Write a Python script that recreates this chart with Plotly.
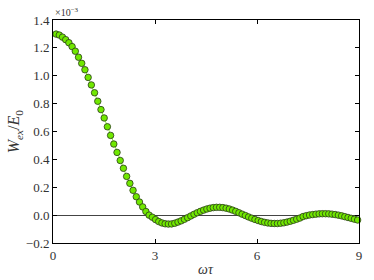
import numpy as np
import plotly.graph_objects as go

x_vals = np.round(np.linspace(0.09, 8.96, 95), 4)

# W_ex / E_0 in units of 1e-3
w_vals = [
    1.299, 1.292, 1.277, 1.259, 1.237, 1.209, 1.176, 1.133, 1.089, 1.043,
    0.988, 0.934, 0.878, 0.817, 0.757, 0.697, 0.634, 0.572, 0.510, 0.450,
    0.392, 0.336, 0.278, 0.228, 0.178, 0.132, 0.094, 0.059, 0.026, 0.000,
    -0.015, -0.032, -0.046, -0.056, -0.062, -0.064, -0.063, -0.058, -0.050, -0.041,
    -0.030, -0.018, -0.006, 0.006, 0.017, 0.027, 0.036, 0.044, 0.050, 0.054,
    0.056, 0.056, 0.054, 0.050, 0.044, 0.036, 0.027, 0.017, 0.007, -0.003,
    -0.013, -0.022, -0.031, -0.039, -0.046, -0.052, -0.056, -0.059, -0.060, -0.060,
    -0.058, -0.055, -0.050, -0.044, -0.037, -0.029, -0.021, -0.010, -0.004, 0.001,
    0.004, 0.007, 0.009, 0.010, 0.010, 0.009, 0.007, 0.004, 0.000, -0.005,
    -0.011, -0.017, -0.023, -0.029, -0.035,
]

x_ticks = [0, 3, 6, 9]
y_ticks = [-0.2, 0.0, 0.2, 0.4, 0.6, 0.8, 1.0, 1.2, 1.4]
y_tick_text = ["\u22120.2", "0.0", "0.2", "0.4", "0.6", "0.8", "1.0", "1.2", "1.4"]

FONT = "Liberation Serif"

fig = go.Figure()
fig.add_trace(go.Scatter(
    x=x_vals, y=w_vals, mode="lines+markers",
    line=dict(color="#8ef03a", width=1),
    marker=dict(size=6.5, color="#70e800", line=dict(color="#2a3a1a", width=0.8)),
    showlegend=False, cliponaxis=False, hoverinfo="skip",
))

axis_common = dict(
    showline=True, linecolor="black", linewidth=1, mirror="ticks",
    ticks="inside", ticklen=4, tickcolor="black", showgrid=False,
    automargin=False,
    tickfont=dict(family=FONT, size=13, color="#333"),
)

fig.update_layout(
    width=374, height=280, autosize=False,
    margin=dict(l=53, r=15, t=20, b=37),
    paper_bgcolor="white", plot_bgcolor="white",
    font=dict(family=FONT, color="#222"),
    hovermode=False,
    xaxis=dict(range=[0, 9], tickvals=x_ticks, ticktext=[str(t) for t in x_ticks],
               zeroline=False, **axis_common),
    yaxis=dict(range=[-0.2, 1.4], tickvals=y_ticks, ticktext=y_tick_text,
               zeroline=True, zerolinecolor="#444", zerolinewidth=1, **axis_common),
    annotations=[
        dict(text="×10<sup>\u22123</sup>", xref="paper", yref="paper",
             x=0, y=1, xanchor="left", yanchor="bottom", showarrow=False,
             font=dict(family=FONT, size=10, color="#333")),
        dict(text="<i>ωτ</i>", xref="paper", yref="paper", x=0.5, y=-0.12,
             xanchor="center", yanchor="middle", showarrow=False,
             font=dict(family=FONT, size=14, color="#333")),
        dict(text="<i>W</i><sub><i>ex</i></sub>/<i>E</i><sub>0</sub>",
             xref="paper", yref="paper", x=-0.125, y=0.5, textangle=-90,
             xanchor="center", yanchor="middle", showarrow=False,
             font=dict(family=FONT, size=16, color="#333")),
    ],
)

fig.write_html("out.html", config={"displayModeBar": False, "staticPlot": True},
               post_script="document.body.style.margin='0';document.body.style.overflow='hidden';")
